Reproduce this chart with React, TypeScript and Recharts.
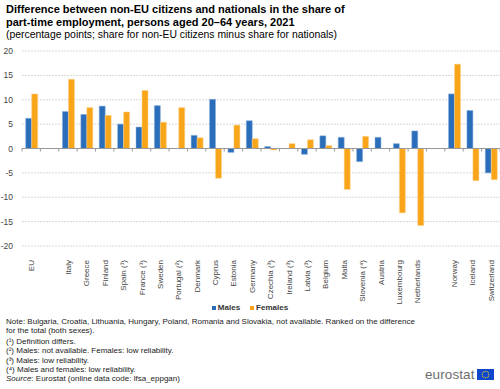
import React from "react";
import { BarChart, Bar, XAxis, YAxis, CartesianGrid, ReferenceLine } from "recharts";

const categories = [
  "EU", "", "Italy", "Greece", "Finland", "Spain (¹)", "France (¹)", "Sweden",
  "Portugal (²)", "Denmark", "Cyprus", "Estonia", "Germany", "Czechia (³)",
  "Ireland (³)", "Latvia (³)", "Belgium", "Malta", "Slovenia (⁴)", "Austria",
  "Luxembourg", "Netherlands", " ", "Norway", "Iceland", "Switzerland",
];
const males = [
  6.2, null, 7.6, 7.0, 8.7, 5.0, 4.4, 8.8, null, 2.7, 10.1, -0.8, 5.7, 0.4,
  null, -1.2, 2.6, 2.3, -2.7, 2.3, 1.0, 3.6, null, 11.2, 7.8, -5.0,
];
const females = [
  11.2, null, 14.2, 8.4, 6.8, 7.5, 11.9, 5.4, 8.4, 2.2, -6.1, 4.8, 2.0, -0.3,
  1.0, 1.8, 0.6, -8.4, 2.5, null, -13.2, -15.8, null, 17.3, -6.6, -6.4,
];
const yTicks = [-20, -15, -10, -5, 0, 5, 10, 15, 20];

const data = categories.map((name, i) => ({ name, males: males[i], females: females[i] }));

const FONT = "'Liberation Sans', Arial, sans-serif";
const BLUE = "#2a6ebb";
const ORANGE = "#f9a51a";

const XTick = (props: any) => {
  const { x, y, payload } = props;
  return (
    <text
      x={x + 3}
      y={y + 6}
      transform={`rotate(-90, ${x + 3}, ${y + 6})`}
      textAnchor="end"
      fontSize={8}
      fill="#444"
      fontFamily={FONT}
    >
      {payload.value}
    </text>
  );
};

// small tick marks between categories along the zero line
const ZeroTicks = (props: any) => {
  const vb = props.viewBox;
  if (!vb) return null;
  const step = vb.width / categories.length;
  return (
    <g>
      {Array.from({ length: categories.length + 1 }, (_, i) => (
        <line
          key={i}
          x1={vb.x + i * step}
          x2={vb.x + i * step}
          y1={vb.y}
          y2={vb.y + 3}
          stroke="#999"
          strokeWidth={1}
        />
      ))}
    </g>
  );
};

const notes = [
  "Note: Bulgaria, Croatia, Lithuania, Hungary, Poland, Romania and Slovakia, not available. Ranked on the difference",
  "for the total (both sexes).",
];
const footnotes = [
  "(¹) Definition differs.",
  "(²) Males: not available. Females: low reliability.",
  "(³) Males: low reliability.",
  "(⁴) Males and females: low reliability.",
];

export default function App() {
  return (
    <div
      style={{
        position: "fixed",
        left: 0,
        top: 0,
        width: 500,
        height: 389,
        background: "#fff",
        fontFamily: FONT,
        color: "#000",
        overflow: "hidden",
      }}
    >
      <div style={{ position: "absolute", left: 6, top: 3, fontSize: 11, fontWeight: "bold", lineHeight: "13.3px" }}>
        Difference between non-EU citizens and nationals in the share of
        <br />
        part-time employment, persons aged 20–64 years, 2021
      </div>
      <div style={{ position: "absolute", left: 6, top: 28.5, fontSize: 10.4, lineHeight: "12px" }}>
        (percentage points; share for non-EU citizens minus share for nationals)
      </div>

      <div style={{ position: "absolute", left: 0, top: 0 }}>
        <BarChart
          width={500}
          height={389}
          data={data}
          margin={{ top: 51, right: 0, bottom: 83, left: 0 }}
          barCategoryGap="20%"
          barGap={0}
        >
          <CartesianGrid vertical={false} stroke="#d9d9d9" strokeDasharray="2 1" />
          <XAxis
            dataKey="name"
            axisLine={false}
            tickLine={false}
            tick={<XTick />}
            interval={0}
            height={60}
          />
          <YAxis
            domain={[-20, 20]}
            ticks={yTicks}
            width={22}
            axisLine={false}
            tickLine={false}
            tick={{ fontSize: 8.5, fill: "#444", fontFamily: FONT }}
            tickMargin={3}
          />
          <ReferenceLine y={0} stroke="#999" label={<ZeroTicks />} />
          <Bar dataKey="males" fill={BLUE} stroke="#8fb3dd" strokeWidth={0.5} isAnimationActive={false} />
          <Bar dataKey="females" fill={ORANGE} stroke="#fcd38e" strokeWidth={0.5} isAnimationActive={false} />
        </BarChart>
      </div>

      <div
        style={{
          position: "absolute",
          left: 0,
          width: 500,
          top: 303,
          display: "flex",
          justifyContent: "center",
          fontSize: 8,
          fontWeight: "bold",
          color: "#333",
        }}
      >
        <span style={{ display: "flex", alignItems: "center", marginRight: 10 }}>
          <span style={{ width: 4, height: 4, background: BLUE, marginRight: 2 }} />
          Males
        </span>
        <span style={{ display: "flex", alignItems: "center" }}>
          <span style={{ width: 4, height: 4, background: ORANGE, marginRight: 2 }} />
          Females
        </span>
      </div>

      <div style={{ position: "absolute", left: 6, top: 317, fontSize: 8, lineHeight: "9.3px", color: "#222" }}>
        {notes.map((t, i) => (
          <div key={i}>{t}</div>
        ))}
        <div style={{ height: 1.5 }} />
        {footnotes.map((t, i) => (
          <div key={i}>{t}</div>
        ))}
        <div>
          <i>Source</i>: Eurostat (online data code: lfsa_eppgan)
        </div>
      </div>

      <div style={{ position: "absolute", left: 425, top: 367, display: "flex", alignItems: "center" }}>
        <span style={{ fontSize: 13.5, color: "#6d6d6d", letterSpacing: 0.1 }}>eurostat</span>
        <svg width={17} height={11} style={{ marginLeft: 2 }}>
          <rect x={0} y={0} width={17} height={11} fill="#0e47cb" />
          {Array.from({ length: 12 }, (_, i) => {
            const a = (i / 12) * Math.PI * 2;
            return <circle key={i} cx={8.5 + Math.cos(a) * 3.3} cy={5.5 + Math.sin(a) * 3.3} r={0.55} fill="#ffd617" />;
          })}
        </svg>
      </div>
    </div>
  );
}
